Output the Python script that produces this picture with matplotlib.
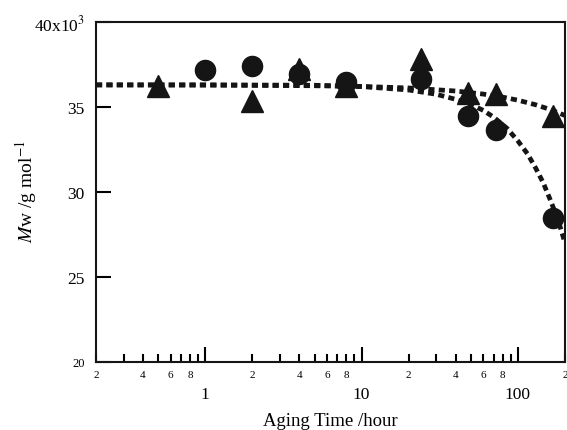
#!/usr/bin/env python3

import matplotlib
matplotlib.use("Agg")
import matplotlib.pyplot as plt
from matplotlib.ticker import FixedLocator, FixedFormatter

plt.rcParams['font.family'] = ['Liberation Serif', 'DejaVu Serif']
plt.rcParams['mathtext.fontset'] = 'stix'

# measured points (hours, Mw in 10^3 g/mol)
circ_t = [1, 2, 4, 8, 24, 48, 72, 168]
circ_mw = [37.2, 37.4, 36.95, 36.45, 36.65, 34.5, 33.65, 28.5]
tri_t = [0.5, 2, 4, 8, 24, 48, 72, 168]
tri_mw = [36.25, 35.35, 37.25, 36.25, 37.8, 35.8, 35.75, 34.5]

# dotted fit curves
fit_circ_t = [0.2, 1, 5, 10, 20, 30, 40, 50, 60, 70, 85, 100, 115, 130, 145, 160, 180, 200]
fit_circ_mw = [36.3, 36.3, 36.28, 36.2, 36.0, 35.75, 35.45, 35.15, 34.8, 34.4,
               33.75, 33.0, 32.25, 31.4, 30.55, 29.6, 28.4, 27.0]
fit_tri_t = [0.2, 1, 5, 10, 20, 40, 60, 80, 100, 130, 160, 200]
fit_tri_mw = [36.3, 36.29, 36.25, 36.21, 36.12, 35.94, 35.76, 35.58, 35.4, 35.13, 34.86, 34.5]

major_x = [1, 10, 100]
major_x_labels = ["1", "10", "100"]
minor_x = [0.2, 0.3, 0.4, 0.5, 0.6, 0.7, 0.8, 0.9,
           2, 3, 4, 5, 6, 7, 8, 9,
           20, 30, 40, 50, 60, 70, 80, 90, 200]
minor_x_labels = ["2", "", "4", "", "6", "", "8", "",
                  "2", "", "4", "", "6", "", "8", "",
                  "2", "", "4", "", "6", "", "8", "", "2"]
y_ticks = [20, 25, 30, 35, 40]
y_labels = ["20", "25", "30", "35", "40x10$^{3}$"]

fig = plt.figure(figsize=(5.67, 4.31), dpi=100)
ax = fig.add_axes([96/567, 1-363/431, 469/567, 340/431])

ink = '#151515'
dot = (0, (1.3, 0.9))
ax.plot(fit_circ_t, fit_circ_mw, color=ink, lw=3.4, linestyle=dot, dash_capstyle='butt')
ax.plot(fit_tri_t, fit_tri_mw, color=ink, lw=3.4, linestyle=dot, dash_capstyle='butt')
ax.plot(tri_t, tri_mw, '^', color=ink, ms=16, mec=ink, linestyle='none', clip_on=False)
ax.plot(circ_t, circ_mw, 'o', color=ink, ms=14.5, mec=ink, linestyle='none', clip_on=False)

ax.set_xscale('log')
ax.set_xlim(0.2, 200)
ax.set_ylim(20, 40)

ax.xaxis.set_major_locator(FixedLocator(major_x))
ax.xaxis.set_major_formatter(FixedFormatter(major_x_labels))
ax.xaxis.set_minor_locator(FixedLocator(minor_x))
ax.xaxis.set_minor_formatter(FixedFormatter(minor_x_labels))
ax.yaxis.set_major_locator(FixedLocator(y_ticks))
ax.yaxis.set_major_formatter(FixedFormatter(y_labels))

ax.tick_params(axis='x', which='major', direction='in', length=11, width=1.5,
               pad=17, labelsize=12.5, top=False)
ax.tick_params(axis='x', which='minor', direction='in', length=6, width=1.5,
               pad=6, labelsize=8, top=False)
ax.tick_params(axis='y', which='major', direction='in', length=11, width=1.5,
               pad=8, labelsize=12.5, right=False)
ax.get_yticklabels()[0].set_fontsize(9)

for s in ax.spines.values():
    s.set_linewidth(1.5)
    s.set_color(ink)

ax.set_xlabel("Aging Time /hour", fontsize=13.5)
ax.xaxis.set_label_coords(0.5, -0.148)
ax.set_ylabel(r"$\mathit{M}$w /g mol$^{-1}$", fontsize=14)
ax.yaxis.set_label_coords(-0.122, 0.505)

fig.savefig("out.png", dpi=100)
